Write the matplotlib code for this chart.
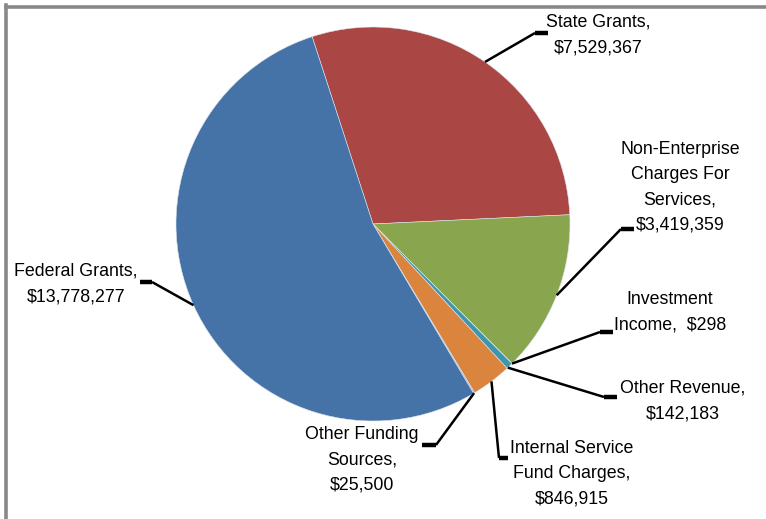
import matplotlib
matplotlib.use("Agg")
import matplotlib.pyplot as plt
import numpy as np
from matplotlib.lines import Line2D

plt.rcParams['font.family'] = ['Liberation Sans', 'DejaVu Sans']
fsize = 12.8

categories = ["State Grants", "Non-Enterprise Charges For Services", "Investment Income",
              "Other Revenue", "Internal Service Fund Charges", "Other Funding Sources",
              "Federal Grants"]
values = [7529367, 3419359, 298, 142183, 846915, 25500, 13778277]
colors = ["#AA4643", "#89A54E", "#80699B", "#3D96AE", "#DB843D", "#92A8CD", "#4572A7"]
label_texts = ["State Grants,\n$7,529,367",
               "Non-Enterprise\nCharges For\nServices,\n$3,419,359",
               "Investment\nIncome,  $298",
               "Other Revenue,\n$142,183",
               "Internal Service\nFund Charges,\n$846,915",
               "Other Funding\nSources,\n$25,500",
               "Federal Grants,\n$13,778,277"]

W, H = 766, 519
fig = plt.figure(figsize=(W / 100, H / 100), dpi=100)
ax = fig.add_axes([0, 0, 1, 1])

cx, cy, R = 373, H - 224, 197
start = 108
wedges, _ = ax.pie(values, colors=colors, startangle=start, counterclock=False,
                   center=(cx, cy), radius=R, frame=True,
                   wedgeprops=dict(linewidth=0.4, edgecolor='#dde4ee'))
ax.set_xlim(0, W)
ax.set_ylim(0, H)
ax.axis('off')

# label layout (pixel coords, image y from top): text centre, elbow, stub end
layout = [
    dict(tx=598, ty=35, elbow=(535, 33), stub=(548, 33)),
    dict(tx=680, ty=187, elbow=(621, 229), stub=(634, 229)),
    dict(tx=670, ty=312, elbow=(600, 332), stub=(613, 332)),
    dict(tx=683, ty=401, elbow=(604, 397), stub=(617, 397)),
    dict(tx=572, ty=474, elbow=(499, 458), stub=(508, 458)),
    dict(tx=362, ty=460, elbow=(436, 445), stub=(422, 445)),
    dict(tx=76, ty=284, elbow=(152, 282), stub=(140, 282)),
]

for w, txt, lay in zip(wedges, label_texts, layout):
    if txt.startswith("Investment"):
        ang = np.deg2rad(w.theta2)
    elif txt.startswith("Other Revenue"):
        ang = np.deg2rad(w.theta1 + 0.3)
    else:
        ang = np.deg2rad((w.theta1 + w.theta2) / 2)
    px = cx + R * np.cos(ang)
    py = cy + R * np.sin(ang)
    ex, ey = lay['elbow']
    sx, sy = lay['stub']
    ax.plot([px, ex], [py, H - ey], color='black', lw=1.8, solid_capstyle='butt', zorder=5)
    ax.plot([ex, sx], [H - ey, H - sy], color='black', lw=3.2, solid_capstyle='butt', zorder=5)
    ax.text(lay['tx'], H - lay['ty'], txt, ha='center', va='center', fontsize=fsize,
            linespacing=1.62, color='black')

# outer frame (top and left only visible)
fig.add_artist(Line2D([5.5 / W, 765 / W], [1 - 6.5 / H, 1 - 6.5 / H], transform=fig.transFigure,
                      color='#888888', lw=2.6))
fig.add_artist(Line2D([5.5 / W, 5.5 / W], [0, 1 - 5.2 / H], transform=fig.transFigure,
                      color='#888888', lw=2.6))

fig.savefig("out.png", dpi=100)
